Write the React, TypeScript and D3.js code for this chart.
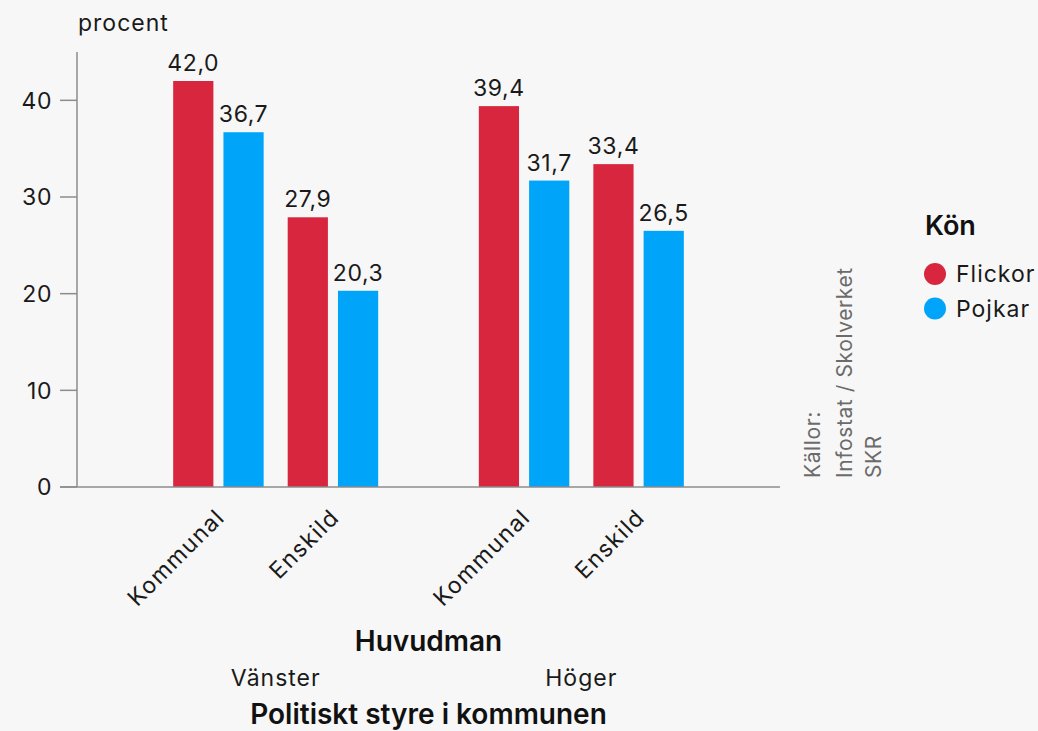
import React from "react";
import * as d3 from "d3";

const styres = ["Vänster", "Höger"];
const huvudmän = ["Kommunal", "Enskild"];
const kön = ["Flickor", "Pojkar"];
const flickor = [42.0, 27.9, 39.4, 33.4];
const pojkar = [36.7, 20.3, 31.7, 26.5];
const yTicks = [0, 10, 20, 30, 40];
const colors = ["#d7263d", "#00a5f9"];
const sources = ["Källor:", "Infostat / Skolverket", "SKR"];

const W = 1038;
const H = 731;
const FONT = "Inter, 'Noto Sans', sans-serif";
const FS = 23;
const LS = 1;

export default function App() {
  const x0 = 77, x1 = 780, yBottom = 487, yTop = 52;
  const y = d3.scaleLinear().domain([0, 45]).range([yBottom, yTop]);
  const outer = d3.scalePoint<string>().domain(styres).range([x0, x1]).padding(0.65);
  const mid = d3.scaleBand<string>().domain(huvudmän).range([-102.5, 102.5]).paddingInner(0.21);
  const inner = d3.scaleBand<string>().domain(kön).range([0, mid.bandwidth()]).paddingInner(0.2);
  const fmt = (v: number) => v.toFixed(1).replace(".", ",");

  const bars: { x: number; v: number; c: string }[] = [];
  const cats: { x: number; label: string }[] = [];
  styres.forEach((s, si) => {
    huvudmän.forEach((h, hi) => {
      const idx = si * 2 + hi;
      const base = (outer(s) as number) + (mid(h) as number);
      cats.push({ x: base + mid.bandwidth() / 2, label: h });
      [flickor[idx], pojkar[idx]].forEach((v, ki) => {
        bars.push({ x: base + (inner(kön[ki]) as number), v, c: colors[ki] });
      });
    });
  });

  const groupCenter = (outer(styres[0])! + outer(styres[1])!) / 2;

  return (
    <svg width={W} height={H} style={{ position: "absolute", left: 0, top: 0, background: "#f7f7f7" }} fontFamily={FONT}>
      <rect x={0} y={0} width={W} height={H} fill="#f7f7f7" />
      <text x={78} y={31} fontSize={FS} letterSpacing={LS} fill="#1a1a1a">procent</text>
      {/* y axis */}
      <line x1={x0} x2={x0} y1={yTop} y2={yBottom} stroke="#8c8c8c" strokeWidth={1.5} />
      {yTicks.map((t) => (
        <g key={t}>
          <line x1={60} x2={x0} y1={y(t)} y2={y(t)} stroke="#8c8c8c" strokeWidth={1.5} />
          <text x={52} y={y(t)} dy="0.36em" textAnchor="end" fontSize={FS} letterSpacing={0.6} fill="#1a1a1a">{t}</text>
        </g>
      ))}
      {bars.map((b, i) => (
        <g key={i}>
          <rect x={b.x} y={y(b.v)} width={inner.bandwidth()} height={yBottom - y(b.v)} fill={b.c} />
          <text x={b.x + inner.bandwidth() / 2} y={y(b.v) - 10} textAnchor="middle" fontSize={FS} letterSpacing={0.6} fill="#1a1a1a">{fmt(b.v)}</text>
        </g>
      ))}
      {/* x axis */}
      <line x1={60} x2={x1} y1={yBottom} y2={yBottom} stroke="#8c8c8c" strokeWidth={1.5} />
      {cats.map((c, i) => (
        <text key={i} transform={`translate(${c.x - 4},${yBottom + 20}) rotate(-45)`} textAnchor="end" dy="0.72em" fontSize={FS} letterSpacing={1.4} fill="#1a1a1a">{c.label}</text>
      ))}
      <text x={groupCenter} y={651} textAnchor="middle" fontSize={28} fontWeight={600} fill="#111">Huvudman</text>
      {styres.map((s) => (
        <text key={s} x={outer(s)} y={686} textAnchor="middle" fontSize={FS} letterSpacing={LS} fill="#1a1a1a">{s}</text>
      ))}
      <text x={groupCenter} y={724} textAnchor="middle" fontSize={28} fontWeight={600} fill="#111">Politiskt styre i kommunen</text>
      {/* sources */}
      {[820, 852, 881].map((xx, i) => (
        <text key={sources[i]} transform={`translate(${xx},478) rotate(-90)`} fontSize={21} letterSpacing={0.6} fill="#6b6b6b">{sources[i]}</text>
      ))}
      {/* legend */}
      <text x={925} y={235} fontSize={27} fontWeight={600} fill="#111">Kön</text>
      {kön.map((k, i) => (
        <g key={k} transform={`translate(935,${274 + i * 34.5})`}>
          <circle r={11} fill={colors[i]} />
          <text x={21} dy="0.36em" fontSize={FS} letterSpacing={LS} fill="#1a1a1a">{k}</text>
        </g>
      ))}
    </svg>
  );
}
